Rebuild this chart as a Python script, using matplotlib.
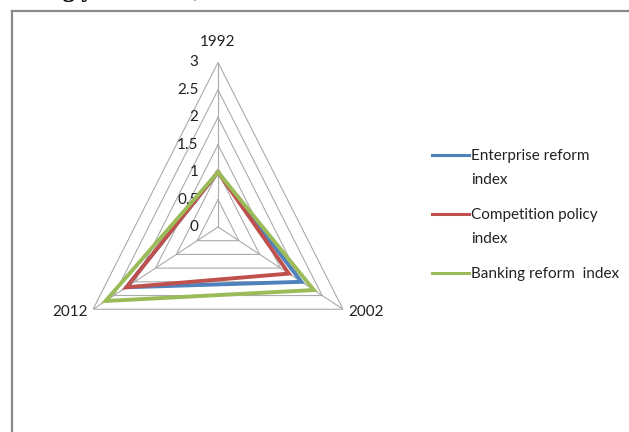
import numpy as np
import matplotlib
matplotlib.use("Agg")
import matplotlib.pyplot as plt
from matplotlib.lines import Line2D

#%% data

years = ["1992", "2002", "2012"]
enterprise = [1.0, 2.0, 2.2]
competition = [1.0, 1.7, 2.2]
banking = [1.0, 2.3, 2.7]
series_names = ["Enterprise reform", "Competition policy", "Banking reform  index"]
name_tails = ["index", "index", ""]
series_colors = ["#4F81BD", "#C0504D", "#9BBB59"]
ticks = [0, 0.5, 1, 1.5, 2, 2.5, 3]

#%% figure

plt.rcParams['font.family'] = ['Lato', 'DejaVu Sans']
W, H = 629, 432
fs = 11
txt_col = '#222222'
fig = plt.figure(figsize=(W/100, H/100), dpi=100)

# frame of the embedded chart (runs off the right/bottom of the crop)
frame_col = '#8a8a8a'
fig.add_artist(Line2D([12/W, 12/W], [0, 1-11/H], color=frame_col, lw=1.6))
fig.add_artist(Line2D([12/W, 1], [1-11/H, 1-11/H], color=frame_col, lw=1.6))

# caption of the document, cut off at the top (only descenders show)
fig.text(3/W, 1+3.5/H, "during years 1992, 2002 and 2012", family='Liberation Serif',
         fontweight='bold', fontsize=18, va='baseline', ha='left')

ax = fig.add_axes([0.1172, 0.0938, 0.4588, 0.7616], projection='polar')
ax.set_theta_zero_location('N')
ax.set_theta_direction(-1)
ax.set_aspect('auto')
ax.set_ylim(0, 3)
ax.grid(False)
ax.spines['polar'].set_visible(False)
ax.set_xticks([])
ax.set_yticks([])
ax.patch.set_alpha(0)

theta = np.deg2rad([0, 120, 240])
closed = np.append(theta, theta[0])

# triangular gridlines and spokes
for v in ticks[1:]:
    ax.plot(closed, [v]*4, color='#ababab', lw=0.8, zorder=1)
for t in theta:
    ax.plot([t, t], [0, ticks[-1]], color='#ababab', lw=0.8, zorder=1)

# tick labels along the 1992 spoke
for v in ticks:
    ax.annotate(f"{v:g}", xy=(0, v), xytext=(-14, 0), textcoords='offset points',
                ha='right', va='center', fontsize=fs, color=txt_col)

# category labels
ax.annotate(years[0], xy=(0, 3), xytext=(0, 15), textcoords='offset points',
            ha='center', va='center', fontsize=fs, color=txt_col)
ax.annotate(years[1], xy=(theta[1], 3), xytext=(4, -2), textcoords='offset points',
            ha='left', va='center', fontsize=fs, color=txt_col)
ax.annotate(years[2], xy=(theta[2], 3), xytext=(-4, -2), textcoords='offset points',
            ha='right', va='center', fontsize=fs, color=txt_col)

# series
for vals, name, col in zip([enterprise, competition, banking], series_names, series_colors):
    ax.plot(closed, vals + vals[:1], color=col, lw=2.8, label=name, zorder=3,
            solid_joinstyle='miter')

leg = ax.legend(loc='upper left', bbox_to_anchor=(432/W, 1-149/H), bbox_transform=fig.transFigure,
                frameon=False, fontsize=fs, handlelength=2.4, handletextpad=0.15,
                labelspacing=2.95, borderpad=0, borderaxespad=0)
for h in leg.get_lines():
    h.set_linewidth(2.2)
for t in leg.get_texts():
    t.set_color(txt_col)

# second line of the wrapped legend labels
for t, tail in zip(leg.get_texts(), name_tails):
    if tail:
        ax.annotate(tail, xy=(0, 0), xycoords=t, xytext=(0, -17), textcoords='offset points',
                    ha='left', va='bottom', fontsize=fs, color=txt_col, zorder=10)

fig.savefig('out.png', dpi=100)
